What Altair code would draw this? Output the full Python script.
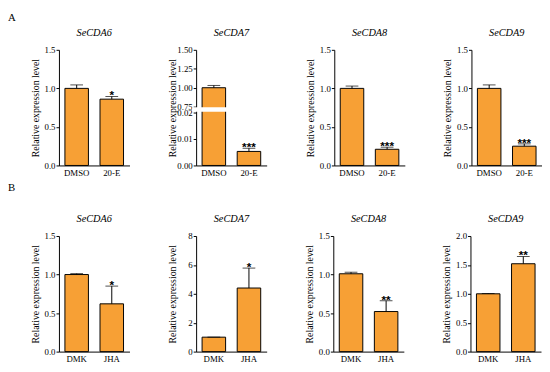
import altair as alt
import pandas as pd

ORANGE = "#F7A035"
FONT = "Liberation Serif"
STAR_FONT = "Liberation Sans"

genes = ["SeCDA6", "SeCDA7", "SeCDA8", "SeCDA9"]
groups_a = ["DMSO", "20-E"]
groups_b = ["DMK", "JHA"]

# Panel A (20-E treatment)
a_means = [[1.00, 0.86], [1.00, 0.0053], [1.00, 0.21], [1.00, 0.25]]
a_errs = [[0.045, 0.035], [0.03, 0.0012], [0.03, 0.027], [0.045, 0.03]]
a_stars = [["", "*"], ["", "***"], ["", "***"], ["", "***"]]

# Panel B (JHA treatment)
b_means = [[1.00, 0.62], [1.00, 4.40], [1.01, 0.52], [1.00, 1.52]]
b_errs = [[0.012, 0.23], [0.0, 1.38], [0.02, 0.14], [0.006, 0.125]]
b_stars = [["", "*"], ["", "*"], ["", "**"], ["", "**"]]

a_domains = [[0, 1.5], None, [0, 1.5], [0, 1.5]]
a_ticks = [[0, 0.5, 1.0, 1.5], None, [0, 0.5, 1.0, 1.5], [0, 0.5, 1.0, 1.5]]
b_domains = [[0, 1.5], [0, 8], [0, 1.5], [0, 2.0]]
b_ticks = [[0, 0.5, 1.0, 1.5], [0, 2, 4, 6, 8], [0, 0.5, 1.0, 1.5], [0, 0.5, 1.0, 1.5, 2.0]]
b_formats = [".1f", "d", ".1f", ".1f"]

# broken axis segments for SeCDA7 (A)
break_low = [0, 0.02]
break_high = [0.75, 1.5]
break_low_ticks = [0, 0.01, 0.02]
break_high_ticks = [0.75, 1.0, 1.25, 1.5]

W = 72
H = 118
SPACING = 39


def xenc(groups):
    return alt.X(
        "group:N", sort=groups,
        scale=alt.Scale(paddingInner=0.33, paddingOuter=0.17),
        axis=alt.Axis(title=None, labelAngle=0, ticks=False, labelPadding=3,
                      domainColor="black", labelFontSize=9),
    )


def yaxis(values, fmt=None, label_expr=None):
    kw = dict(values=values, title="Relative expression level", tickSize=3,
              labelPadding=1, minExtent=16, maxExtent=16, titlePadding=3,
              labelFontSize=9, titleFontSize=10, labelOverlap=False,
              labelFlush=False)
    if fmt:
        kw["format"] = fmt
    if label_expr:
        kw["labelExpr"] = label_expr
    return alt.Axis(**kw)


def ptitle(text):
    return alt.Title(text, fontStyle="italic", font=FONT, fontSize=10.5,
                     fontWeight="normal", offset=8, color="black")


def layers(base, groups, yfield, topfield, scale, axis):
    x = xenc(groups)
    bars = base.mark_bar(color=ORANGE, stroke="black", strokeWidth=1).encode(
        x=x, y=alt.Y(f"{yfield}:Q", scale=scale, axis=axis))
    rule = base.mark_rule(color="black", strokeWidth=1).encode(
        x=x, y=alt.Y(f"{yfield}:Q", scale=scale, axis=axis), y2=f"{topfield}:Q")
    cap = base.mark_tick(color="black", size=13, thickness=1).encode(
        x=x, y=alt.Y(f"{topfield}:Q", scale=scale, axis=axis))
    txt = base.mark_text(font=STAR_FONT, fontSize=12, fontWeight="bold",
                         baseline="alphabetic", dy=3, color="black").encode(
        x=x, y=alt.Y(f"{topfield}:Q", scale=scale, axis=axis), text="star:N")
    return [bars, rule, cap, txt]


def panel(gene, groups, means, errs, stars, domain, ticks, fmt):
    df = pd.DataFrame({"group": groups, "mean": means, "err": errs, "star": stars})
    base = alt.Chart(df).transform_calculate(top="datum.mean + datum.err")
    scale = alt.Scale(domain=domain, nice=False, zero=True)
    ls = layers(base, groups, "mean", "top", scale, yaxis(ticks, fmt))
    return alt.layer(*ls).properties(width=W, height=H, title=ptitle(gene))


def broken_panel(gene, groups, means, errs, stars):
    L = 54.0
    G = 6.0
    U = H - L - G
    lo0, lo1 = break_low
    hi0, hi1 = break_high

    def tr(field):
        return (f"datum.{field} <= {lo1} ? datum.{field} / {lo1 - lo0} * {L} : "
                f"{L + G} + (datum.{field} - {hi0}) / {hi1 - hi0} * {U}")

    df = pd.DataFrame({"group": groups, "mean": means, "err": errs, "star": stars})
    base = (alt.Chart(df)
            .transform_calculate(top="datum.mean + datum.err")
            .transform_calculate(tm=tr("mean"), tt=tr("top")))
    values = [v / (lo1 - lo0) * L for v in break_low_ticks] + \
             [L + G + (v - hi0) / (hi1 - hi0) * U for v in break_high_ticks]
    label_expr = (f"datum.value <= {L + 0.5} ? format(datum.value / {L} * {lo1}, '.2f') : "
                  f"format({hi0} + (datum.value - {L + G}) / {U} * {hi1 - hi0}, '.2f')")
    scale = alt.Scale(domain=[0, H], nice=False, zero=True)
    axis = yaxis(values, label_expr=label_expr)
    ls = layers(base, groups, "tm", "tt", scale, axis)
    gap_df = pd.DataFrame({"lo": [lo1], "hi": [hi0]})
    gap = (alt.Chart(gap_df)
           .transform_calculate(g1=f"{L} + 0.7", g2=f"{L + G} - 0.7")
           .mark_rect(color="white")
           .encode(x=alt.value(-4), x2=alt.value(W + 1),
                   y=alt.Y("g1:Q", scale=scale, axis=axis), y2="g2:Q"))
    return alt.layer(*ls, gap).properties(width=W, height=H, title=ptitle(gene))


row_a_panels = []
for i, g in enumerate(genes):
    if g == "SeCDA7":
        row_a_panels.append(broken_panel(g, groups_a, a_means[i], a_errs[i], a_stars[i]))
    else:
        row_a_panels.append(panel(g, groups_a, a_means[i], a_errs[i], a_stars[i],
                                  a_domains[i], a_ticks[i], ".1f"))

row_b_panels = [panel(g, groups_b, b_means[i], b_errs[i], b_stars[i],
                      b_domains[i], b_ticks[i], b_formats[i]) for i, g in enumerate(genes)]


def row_title(t, offset):
    return alt.Title(t, anchor="start", font=FONT, fontSize=11, fontWeight="normal",
                     color="black", offset=offset, dx=-23)


row_a = alt.hconcat(*row_a_panels, spacing=SPACING, title=row_title("A", 5))
row_b = alt.hconcat(*row_b_panels, spacing=SPACING, title=row_title("B", 21))

chart = (alt.vconcat(row_a, row_b, spacing=5)
         .properties(padding={"left": 0, "top": 0, "right": 0, "bottom": 0})
         .configure_view(stroke=None)
         .configure_axis(labelFont=FONT, titleFont=FONT, labelColor="black",
                         titleColor="black", tickColor="black", domainColor="black",
                         titleFontWeight="normal", grid=False)
         .configure_concat(spacing=SPACING))

chart.save("out.html", embed_options={"renderer": "svg", "actions": False})
